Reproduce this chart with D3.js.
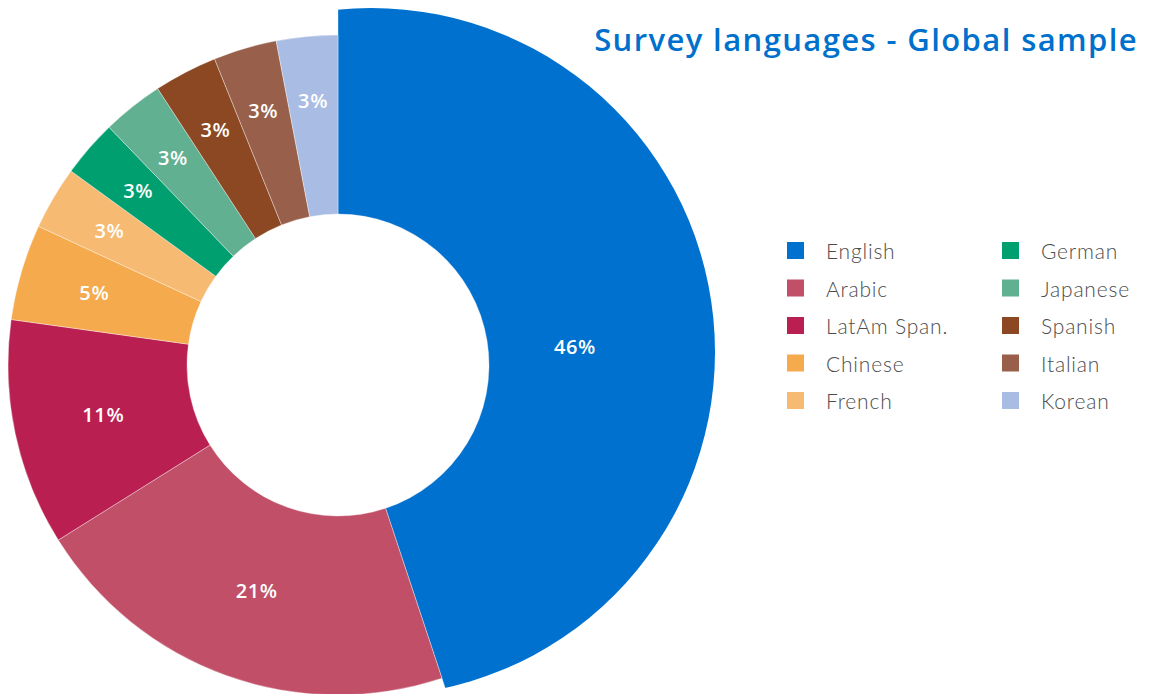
<!DOCTYPE html>
<meta charset="utf-8">
<style>
    body { margin: 0; background: #fff; }
    .title { font-family: "Open Sans", sans-serif; font-weight: 600; fill: #0070cd; }
    .slice-label { font-family: "Open Sans", sans-serif; font-weight: 600; fill: #fff; }
    .legend text { font-family: "Lato", "Open Sans", sans-serif; font-weight: 300; fill: #4d4d4d; }
</style>
<svg width="1153" height="694"></svg>
<script src="https://cdn.jsdelivr.net/npm/d3@7"></script>
<script>

    // languages in slice order (clockwise from 12 o'clock)
    var languages = ["English", "Arabic", "LatAm Span.", "Chinese", "French",
                     "German", "Japanese", "Spanish", "Italian", "Korean"];
    // shares
    var shares = [44.9, 21.2, 11.1, 4.7, 3.1, 2.8, 3.0, 3.1, 3.1, 3.0];
    // labels as printed on the slices
    var labels = ["46%", "21%", "11%", "5%", "3%", "3%", "3%", "3%", "3%", "3%"];
    var colors = ["#0071ce", "#c04f67", "#b92051", "#f5aa4e", "#f7ba72",
                  "#009f6f", "#62b092", "#8b4822", "#98604a", "#a8bce4"];

    var svg = d3.select("svg");
    var cx = 338, cy = 365;

    var color = d3.scaleOrdinal().domain(languages).range(colors);

    var data = languages.map(function (name, i) {
        return {name: name, value: shares[i], label: labels[i]};
    });

    var pie = d3.pie()
        .sort(null)
        .value(function (d) { return d.value; });

    var arcs = pie(data);

    var arc = d3.arc()
        .innerRadius(151)
        .outerRadius(function (d) { return d.index === 0 ? 420 : 330; });

    var defs = svg.append("defs");
    // the English slice sticks out a bit further, on a slightly shifted circle
    defs.append("clipPath").attr("id", "bigSlice")
        .append("circle")
        .attr("cx", 33).attr("cy", -13).attr("r", 344);

    var g = svg.append("g").attr("transform", "translate(" + cx + "," + cy + ")");

    g.selectAll("path")
        .data(arcs)
        .enter()
        .append("path")
        .attr("d", arc)
        .attr("fill", function (d) { return color(d.data.name); })
        .attr("clip-path", function (d) { return d.index === 0 ? "url(#bigSlice)" : null; })
        .attr("stroke", "#fff")
        .attr("stroke-width", 0.6)
        .attr("stroke-opacity", 0.6);

    // label radius: small slices get their label pushed outward
    var labelRadius = function (d) {
        if (d.data.value < 4) return 265;
        if (d.data.value < 6) return 254;
        return 240;
    };

    g.selectAll("text.slice-label")
        .data(arcs)
        .enter()
        .append("text")
        .attr("class", "slice-label")
        .attr("transform", function (d) {
            var r = labelRadius(d);
            var c = d3.arc().innerRadius(r).outerRadius(r).centroid(d);
            if (d.index === 0) c[1] += 20;
            return "translate(" + c[0] + "," + c[1] + ")";
        })
        .attr("text-anchor", "middle")
        .attr("dy", "0.35em")
        .style("font-size", "20px")
        .style("letter-spacing", "0.6px")
        .text(function (d) { return d.data.label; });

    // title
    svg.append("text")
        .attr("class", "title")
        .attr("x", 1138)
        .attr("y", 51)
        .attr("text-anchor", "end")
        .style("font-size", "31px")
        .style("letter-spacing", "1.4px")
        .text("Survey languages - Global sample");

    // legend, two columns of five
    var legend = svg.append("g").attr("class", "legend");
    var item = legend.selectAll("g")
        .data(languages)
        .enter()
        .append("g")
        .attr("transform", function (d, i) {
            var col = Math.floor(i / 5), row = i % 5;
            return "translate(" + (787 + col * 215) + "," + (251 + row * 37.5) + ")";
        });

    item.append("rect")
        .attr("x", 0)
        .attr("y", -9)
        .attr("width", 17)
        .attr("height", 17)
        .attr("fill", function (d) { return color(d); });

    item.append("text")
        .attr("x", 39)
        .attr("y", 8)
        .style("font-size", "21px")
        .style("letter-spacing", "0.8px")
        .text(function (d) { return d; });

</script>
